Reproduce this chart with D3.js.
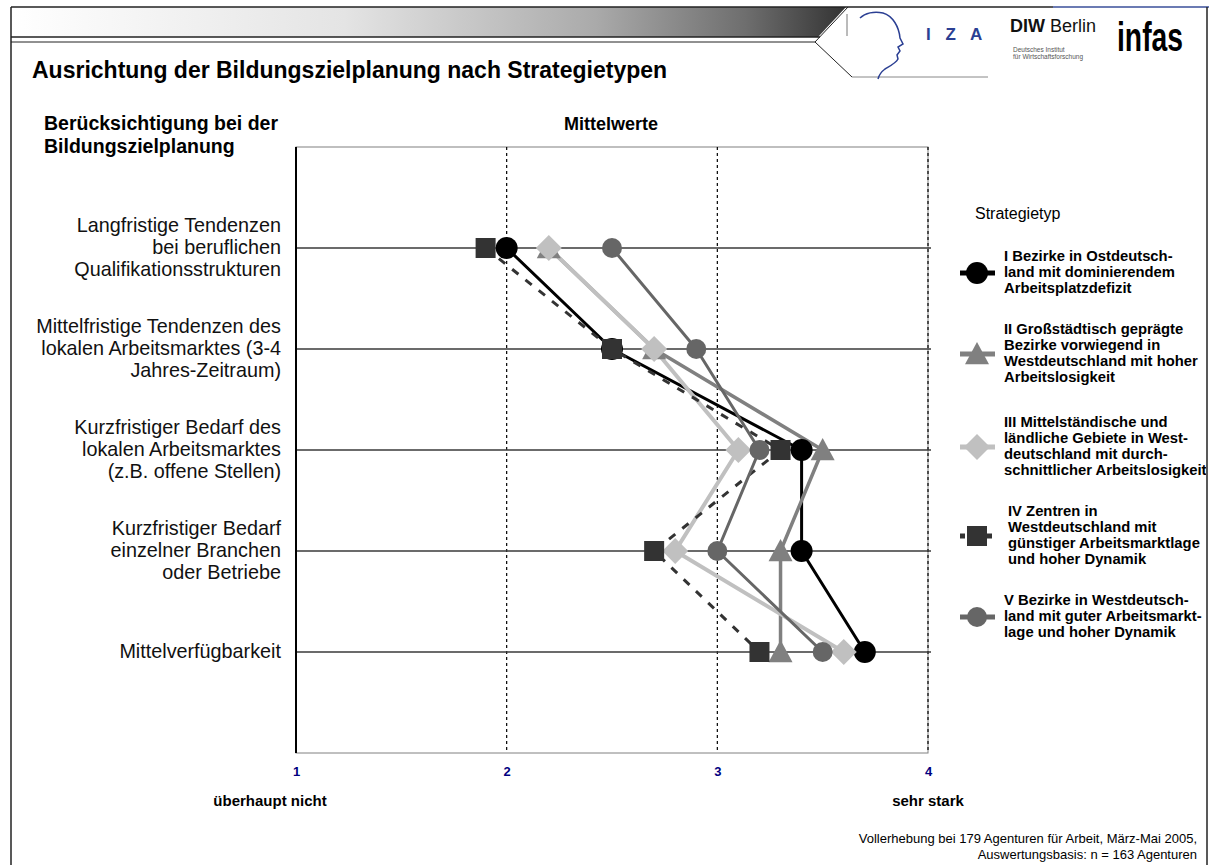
<!DOCTYPE html>
<html>
<head>
<meta charset="utf-8">
<script src="https://cdn.jsdelivr.net/npm/d3@7/dist/d3.min.js"></script>
<style>
	body { margin: 0; background: #fff; }
	svg text { font-family: "Liberation Sans", Arial, sans-serif; }
</style>
</head>
<body>
<svg id="chart" width="1211" height="865"></svg>
<script>
"use strict";

// categories (rows of the chart), top to bottom
var categories = [
	["Langfristige Tendenzen", "bei beruflichen", "Qualifikationsstrukturen"],
	["Mittelfristige Tendenzen des", "lokalen Arbeitsmarktes (3-4", "Jahres-Zeitraum)"],
	["Kurzfristiger Bedarf des", "lokalen Arbeitsmarktes", "(z.B. offene Stellen)"],
	["Kurzfristiger Bedarf", "einzelner Branchen", "oder Betriebe"],
	["Mittelverfügbarkeit"]
];

// mean values per strategy type (1 = überhaupt nicht, 4 = sehr stark)
var valuesI = [2.0, 2.5, 3.4, 3.4, 3.7];
var valuesII = [2.2, 2.7, 3.5, 3.3, 3.3];
var valuesIII = [2.2, 2.7, 3.1, 2.8, 3.6];
var valuesIV = [1.9, 2.5, 3.3, 2.7, 3.2];
var valuesV = [2.5, 2.9, 3.2, 3.0, 3.5];

var xTicks = [1, 2, 3, 4];

var legendLabels = [
	["I Bezirke in Ostdeutsch-", "land mit dominierendem", "Arbeitsplatzdefizit"],
	["II Großstädtisch geprägte", "Bezirke vorwiegend in", "Westdeutschland mit hoher", "Arbeitslosigkeit"],
	["III Mittelständische und", "ländliche Gebiete in West-", "deutschland mit durch-", "schnittlicher Arbeitslosigkeit"],
	["IV Zentren in", "Westdeutschland mit", "günstiger Arbeitsmarktlage", "und hoher Dynamik"],
	["V Bezirke in Westdeutsch-", "land mit guter Arbeitsmarkt-", "lage und hoher Dynamik"]
];

var svg = d3.select('#chart');

// series styles
var series = [
	{values: valuesI, color: '#000000', marker: 'circle', size: 11, width: 3, dash: null, legendY: 256, legendX: 1004},
	{values: valuesII, color: '#808080', marker: 'triangle', size: 12, width: 3.5, dash: null, legendY: 329, legendX: 1004},
	{values: valuesIII, color: '#c0c0c0', marker: 'diamond', size: 13, width: 4, dash: null, legendY: 422, legendX: 1004},
	{values: valuesIV, color: '#333333', marker: 'square', size: 10, width: 3, dash: '8,9', legendY: 511, legendX: 1008},
	{values: valuesV, color: '#666666', marker: 'circle', size: 10, width: 3, dash: null, legendY: 600, legendX: 1004}
];

function markerPath(shape, s) {
	if(shape === 'circle') {
		return 'M' + (-s) + ',0A' + s + ',' + s + ' 0 1,0 ' + s + ',0A' + s + ',' + s + ' 0 1,0 ' + (-s) + ',0Z';
	}
	if(shape === 'square') {
		return 'M' + (-s) + ',' + (-s) + 'H' + s + 'V' + s + 'H' + (-s) + 'Z';
	}
	if(shape === 'diamond') {
		return 'M0,' + (-s) + 'L' + s + ',0L0,' + s + 'L' + (-s) + ',0Z';
	}
	// triangle
	return 'M0,' + (-s) + 'L' + s + ',' + (s * 0.85) + 'L' + (-s) + ',' + (s * 0.85) + 'Z';
}

//header: gradient bar, frame lines and logos
var defs = svg.append('defs');
var grad = defs.append('linearGradient').attr('id', 'hdr').attr('x1', '0%').attr('x2', '100%');
grad.append('stop').attr('offset', '0%').attr('stop-color', '#ffffff');
grad.append('stop').attr('offset', '40%').attr('stop-color', '#e4e4e4');
grad.append('stop').attr('offset', '70%').attr('stop-color', '#aaaaaa');
grad.append('stop').attr('offset', '88%').attr('stop-color', '#6e6e6e');
grad.append('stop').attr('offset', '100%').attr('stop-color', '#333333');

defs.append('clipPath').attr('id', 'inner')
	.append('rect').attr('x', 0).attr('y', 0).attr('width', 1206).attr('height', 865);

svg.append('path')
	.attr('d', 'M11,7H846L818,37H11Z')
	.style('fill', 'url(#hdr)');

var frame = svg.append('g').style('fill', 'none').style('stroke', '#222').style('stroke-width', 1.5);
frame.append('path').attr('d', 'M11,7H1053');
frame.append('path').attr('d', 'M1053,7H1209').style('stroke', '#3a4f9a');
frame.append('path').attr('d', 'M11,7V865');
frame.append('path').attr('d', 'M1207,7V865');
frame.append('path').attr('d', 'M11,37H820');
frame.append('path').attr('d', 'M11,42H815').style('stroke-width', 1);
frame.append('path').attr('d', 'M848,7L815,42L852,77').style('stroke-width', 1);
frame.append('path').attr('d', 'M852,77H988').style('stroke', '#888').style('stroke-width', 1);
frame.append('path').attr('d', 'M847,14V36').style('stroke', '#777').style('stroke-width', 1);

//IZA head outline
svg.append('path')
	.attr('d', 'M860,18C865,13 874,11 883,13C893,16 899,27 900,38L903,44L898,47L900,51L897,55L898,59C896,63 890,66 885,69C881,72 879,75 878,79')
	.style('fill', 'none')
	.style('stroke', '#2b3f93')
	.style('stroke-width', 1.5);

svg.append('text')
	.attr('x', 926).attr('y', 40)
	.style('font-size', '17px').style('font-weight', 'bold')
	.style('letter-spacing', '5px')
	.style('fill', '#2b3f93')
	.text('I Z A');

var diw = svg.append('text')
	.attr('x', 1010).attr('y', 32)
	.style('font-size', '18px')
	.style('fill', '#111');
diw.append('tspan').style('font-weight', 'bold').text('DIW');
diw.append('tspan').text(' Berlin');

svg.append('text').attr('x', 1013).attr('y', 52)
	.style('font-size', '6.5px').style('fill', '#555').text('Deutsches Institut');
svg.append('text').attr('x', 1013).attr('y', 59)
	.style('font-size', '6.5px').style('fill', '#555').text('für Wirtschaftsforschung');

svg.append('text')
	.attr('x', 1117).attr('y', 51)
	.attr('textLength', 66).attr('lengthAdjust', 'spacingAndGlyphs')
	.style('font-family', '"Liberation Sans Narrow", "Liberation Sans", sans-serif')
	.style('font-size', '40px').style('font-weight', 'bold')
	.style('fill', '#000')
	.text('infas');

//titles
svg.append('text')
	.attr('x', 32).attr('y', 78)
	.style('font-size', '23px').style('font-weight', 'bold')
	.text('Ausrichtung der Bildungszielplanung nach Strategietypen');

svg.append('text')
	.attr('x', 44).attr('y', 130)
	.style('font-size', '19.5px').style('font-weight', 'bold')
	.text('Berücksichtigung bei der');
svg.append('text')
	.attr('x', 44).attr('y', 153)
	.style('font-size', '19.5px').style('font-weight', 'bold')
	.text('Bildungszielplanung');

svg.append('text')
	.attr('x', 611).attr('y', 130)
	.attr('text-anchor', 'middle')
	.style('font-size', '18px').style('font-weight', 'bold')
	.text('Mittelwerte');

//scales
var x = d3.scaleLinear().domain([1, 4]).range([296, 928]);
var y = d3.scaleLinear().domain([0, 6]).range([147, 753]);

var plot = svg.append('g');

//plot area border
plot.append('rect')
	.attr('x', x(1)).attr('y', y(0))
	.attr('width', x(4) - x(1)).attr('height', y(6) - y(0))
	.style('fill', 'none').style('stroke', '#808080').style('stroke-width', 1);

//vertical dotted gridlines
plot.selectAll('.vgrid').data(xTicks.slice(1)).enter().append('line')
	.attr('class', 'vgrid')
	.attr('x1', function(d) { return x(d); }).attr('x2', function(d) { return x(d); })
	.attr('y1', y(0)).attr('y2', y(6))
	.style('stroke', '#000').style('stroke-width', 1.2).style('stroke-dasharray', '3,3');

//horizontal gridlines at categories
plot.selectAll('.hgrid').data(categories).enter().append('line')
	.attr('class', 'hgrid')
	.attr('x1', x(1)).attr('x2', x(4) + 3)
	.attr('y1', function(d, i) { return y(i + 1); }).attr('y2', function(d, i) { return y(i + 1); })
	.style('stroke', '#3a3a3a').style('stroke-width', 1.3);

//left axis line
plot.append('line')
	.attr('x1', x(1)).attr('x2', x(1))
	.attr('y1', y(0)).attr('y2', y(6))
	.style('stroke', '#000').style('stroke-width', 2);

//x tick labels
var xAxis = d3.axisBottom(x).tickValues(xTicks).tickSize(0).tickFormat(d3.format('d'));
var xg = svg.append('g')
	.attr('transform', 'translate(0,' + (y(6) + 11) + ')')
	.call(xAxis);
xg.select('.domain').remove();
xg.selectAll('text')
	.style('font-family', '"Liberation Sans", Arial, sans-serif')
	.style('font-size', '13px').style('font-weight', 'bold')
	.style('fill', '#000080');

svg.append('text')
	.attr('x', 270).attr('y', 806)
	.attr('text-anchor', 'middle')
	.style('font-size', '15px').style('font-weight', 'bold')
	.text('überhaupt nicht');
svg.append('text')
	.attr('x', x(4)).attr('y', 806)
	.attr('text-anchor', 'middle')
	.style('font-size', '15px').style('font-weight', 'bold')
	.text('sehr stark');

//category labels
categories.forEach(function(lines, i) {
	var cy = y(i + 1);
	var t = svg.append('text')
		.attr('text-anchor', 'end')
		.style('font-size', '19.8px')
		.style('fill', '#111');
	lines.forEach(function(line, k) {
		t.append('tspan')
			.attr('x', 281)
			.attr('y', cy + (k - (lines.length - 1) / 2) * 22 + 6)
			.text(line);
	});
});

//series lines
var line = d3.line()
	.x(function(d) { return x(d); })
	.y(function(d, i) { return y(i + 1); });

series.forEach(function(s) {
	plot.append('path')
		.datum(s.values)
		.attr('d', line)
		.style('fill', 'none')
		.style('stroke', s.color)
		.style('stroke-width', s.width)
		.style('stroke-dasharray', s.dash)
		.style('stroke-linejoin', 'round');
});

//series markers
series.forEach(function(s) {
	plot.selectAll(null).data(s.values).enter().append('path')
		.attr('transform', function(d, i) { return 'translate(' + x(d) + ',' + y(i + 1) + ')'; })
		.attr('d', markerPath(s.marker, s.size))
		.style('fill', s.color);
});

//legend
var legend = svg.append('g').attr('clip-path', 'url(#inner)');

legend.append('text')
	.attr('x', 975).attr('y', 219)
	.style('font-size', '16px')
	.text('Strategietyp');

series.forEach(function(s, i) {
	var lines = legendLabels[i];
	var my = s.legendY + (lines.length - 1) * 16 / 2 + 1;
	var g = legend.append('g');
	g.append('line')
		.attr('x1', 960).attr('x2', 995)
		.attr('y1', my).attr('y2', my)
		.style('stroke', s.color)
		.style('stroke-width', 5)
		.style('stroke-dasharray', s.dash ? '5,4' : null);
	g.append('path')
		.attr('transform', 'translate(977,' + my + ')')
		.attr('d', markerPath(s.marker, s.size))
		.style('fill', s.color);
	var t = g.append('text')
		.style('font-size', '14.8px').style('font-weight', 'bold');
	lines.forEach(function(l, k) {
		t.append('tspan')
			.attr('x', s.legendX)
			.attr('y', s.legendY + k * 16 + 5)
			.text(l);
	});
});

//footnote
svg.append('text')
	.attr('x', 1197).attr('y', 843)
	.attr('text-anchor', 'end')
	.style('font-size', '13px')
	.text('Vollerhebung bei 179 Agenturen für Arbeit, März-Mai 2005,');
svg.append('text')
	.attr('x', 1197).attr('y', 859)
	.attr('text-anchor', 'end')
	.style('font-size', '13px')
	.text('Auswertungsbasis: n = 163 Agenturen');

</script>
</body>
</html>
